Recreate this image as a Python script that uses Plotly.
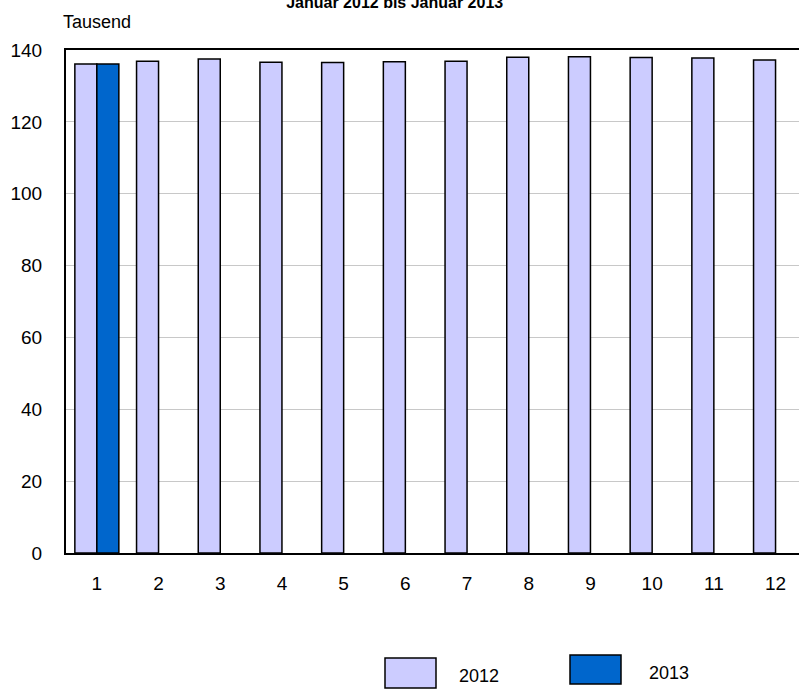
import plotly.graph_objects as go

months = [1, 2, 3, 4, 5, 6, 7, 8, 9, 10, 11, 12]
values_2012 = [136.1, 136.9, 137.5, 136.6, 136.5, 136.7, 136.9, 138.0, 138.1, 137.9, 137.8, 137.2]
months_2013 = [1]
values_2013 = [136.1]
series_names = ["2012", "2013"]
colors = ["#CCCCFF", "#0066CC"]
y_ticks = [0, 20, 40, 60, 80, 100, 120, 140]

W, H = 799, 689
L, R, T, B = 66, 0, 50, 136
pw, ph = W - L - R, H - T - B

def px_x(px):
    return (px - L) / pw

def px_y(py):
    return (H - B - py) / ph

fig = go.Figure()
fig.add_trace(go.Bar(x=months, y=values_2012, name=series_names[0],
                     marker=dict(color=colors[0], line=dict(color="black", width=1.5))))
fig.add_trace(go.Bar(x=months_2013, y=values_2013, name=series_names[1],
                     marker=dict(color=colors[1], line=dict(color="black", width=1.5))))

fam = "Arial, Liberation Sans, sans-serif"
font = dict(family=fam, size=19, color="black")

fig.update_layout(
    width=W, height=H,
    margin=dict(l=L, r=R, t=T, b=B),
    paper_bgcolor="white", plot_bgcolor="white",
    barmode="group", bargap=0.287, bargroupgap=0,
    showlegend=False,
    font=font,
    title=dict(text="<b>Januar 2012 bis Januar 2013</b>", x=0.494, xanchor="center",
               y=0.996, yanchor="middle", font=dict(family=fam, size=16, color="black")),
    xaxis=dict(range=[0.5, 0.5 + pw / 61.7], tickvals=months, ticktext=[str(m) for m in months],
               showline=True, linecolor="black", linewidth=2, mirror=True,
               ticks="", ticklabelstandoff=12, showgrid=False, zeroline=False,
               tickfont=font),
    yaxis=dict(range=[0, 140], tickvals=y_ticks, showline=True, linecolor="black", linewidth=2,
               ticks="", ticklabelstandoff=18, showgrid=True, gridcolor="#C8C8C8", gridwidth=1,
               zeroline=False, tickfont=font),
)

fig.add_annotation(text="Tausend", xref="paper", yref="paper", x=px_x(61), y=px_y(22),
                   xanchor="left", yanchor="middle", showarrow=False,
                   font=dict(family=fam, size=18, color="black"))

# legend drawn manually (wide swatches)
legend_items = [
    (series_names[0], colors[0], 385, 436, 658, 688, 457, 676),
    (series_names[1], colors[1], 570, 621, 655, 684, 647, 673),
]
for name, col, x0, x1, y0, y1, tx, ty in legend_items:
    fig.add_shape(type="rect", xref="paper", yref="paper",
                  x0=px_x(x0), x1=px_x(x1), y0=px_y(y1), y1=px_y(y0),
                  fillcolor=col, line=dict(color="black", width=1.5))
    fig.add_annotation(text=name, xref="paper", yref="paper", x=px_x(tx), y=px_y(ty),
                       xanchor="left", yanchor="middle", showarrow=False,
                       font=dict(family=fam, size=18, color="black"))

fig.write_html("out.html", config={"displayModeBar": False},
               post_script="document.body.style.margin='0';document.body.style.overflow='hidden';")
